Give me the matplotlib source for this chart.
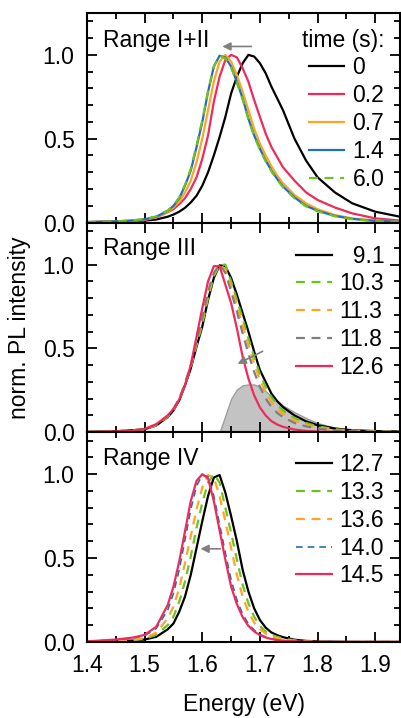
import numpy as np
import matplotlib.pyplot as plt

plt.rcParams['font.family'] = ['Liberation Sans', 'DejaVu Sans']

# common energy grid (eV)
energy = [1.40, 1.45, 1.48, 1.50, 1.52, 1.54, 1.55, 1.56, 1.57, 1.58, 1.59,
          1.60, 1.61, 1.62, 1.63, 1.64, 1.65, 1.66, 1.67, 1.68, 1.69, 1.70,
          1.71, 1.72, 1.73, 1.74, 1.76, 1.78, 1.80, 1.83, 1.86, 1.90, 1.95]

# Range I+II
labels_a = ['0', '0.2', '0.7', '1.4', '6.0']
pl_a_00 = [0.003, 0.006, 0.009, 0.012, 0.018, 0.035, 0.048, 0.065, 0.088, 0.12, 0.16,
           0.22, 0.30, 0.40, 0.51, 0.63, 0.77, 0.87, 0.95, 1.0, 0.99, 0.95,
           0.89, 0.81, 0.74, 0.67, 0.50, 0.37, 0.27, 0.18, 0.115, 0.065, 0.03]
pl_a_02 = [0.002, 0.005, 0.01, 0.015, 0.03, 0.062, 0.08, 0.11, 0.145, 0.20, 0.27,
           0.38, 0.52, 0.72, 0.87, 0.97, 1.0, 0.985, 0.92, 0.84, 0.73, 0.63,
           0.53, 0.45, 0.39, 0.33, 0.25, 0.18, 0.135, 0.09, 0.055, 0.025, 0.01]
pl_a_07 = [0.003, 0.006, 0.011, 0.018, 0.032, 0.064, 0.09, 0.125, 0.18, 0.25, 0.36,
           0.50, 0.67, 0.84, 0.96, 1.0, 0.96, 0.88, 0.78, 0.67, 0.56, 0.47,
           0.40, 0.335, 0.28, 0.235, 0.165, 0.115, 0.08, 0.045, 0.025, 0.012, 0.005]
pl_a_14 = [0.003, 0.007, 0.013, 0.02, 0.035, 0.07, 0.10, 0.145, 0.22, 0.31, 0.45,
           0.60, 0.78, 0.93, 0.995, 0.985, 0.93, 0.84, 0.74, 0.62, 0.52, 0.44,
           0.37, 0.31, 0.26, 0.215, 0.15, 0.10, 0.07, 0.04, 0.022, 0.01, 0.004]
pl_a_60 = [0.003, 0.007, 0.014, 0.021, 0.037, 0.072, 0.103, 0.15, 0.225, 0.32, 0.46,
           0.61, 0.785, 0.93, 0.995, 0.98, 0.925, 0.835, 0.735, 0.615, 0.515, 0.435,
           0.365, 0.305, 0.255, 0.21, 0.145, 0.097, 0.067, 0.038, 0.02, 0.009, 0.003]

# Range III
labels_b = ['  9.1', '10.3', '11.3', '11.8', '12.6']
pl_b_091 = [0.002, 0.006, 0.012, 0.018, 0.04, 0.09, 0.13, 0.19, 0.28, 0.38, 0.51,
            0.63, 0.79, 0.92, 0.995, 0.99, 0.92, 0.82, 0.71, 0.60, 0.48, 0.37,
            0.30, 0.23, 0.185, 0.15, 0.10, 0.065, 0.042, 0.022, 0.012, 0.007, 0.004]
pl_b_103 = [0.002, 0.006, 0.012, 0.019, 0.041, 0.092, 0.133, 0.195, 0.285, 0.39, 0.52,
            0.645, 0.80, 0.93, 0.995, 1.0, 0.90, 0.79, 0.68, 0.56, 0.45, 0.345,
            0.27, 0.21, 0.165, 0.13, 0.085, 0.055, 0.035, 0.018, 0.01, 0.006, 0.003]
pl_b_113 = [0.002, 0.006, 0.012, 0.019, 0.043, 0.095, 0.136, 0.20, 0.29, 0.395, 0.53,
            0.66, 0.82, 0.94, 1.0, 0.97, 0.87, 0.76, 0.64, 0.52, 0.41, 0.31,
            0.24, 0.18, 0.14, 0.11, 0.07, 0.045, 0.028, 0.014, 0.008, 0.004, 0.002]
pl_b_118 = [0.002, 0.005, 0.011, 0.019, 0.044, 0.097, 0.138, 0.20, 0.29, 0.40, 0.54,
            0.68, 0.84, 0.95, 1.0, 0.95, 0.84, 0.72, 0.59, 0.47, 0.36, 0.27,
            0.20, 0.15, 0.115, 0.09, 0.055, 0.035, 0.022, 0.011, 0.006, 0.003, 0.001]
pl_b_126 = [0.002, 0.005, 0.008, 0.02, 0.048, 0.10, 0.14, 0.195, 0.28, 0.40, 0.57,
            0.74, 0.90, 0.99, 0.99, 0.88, 0.77, 0.62, 0.45, 0.32, 0.22, 0.148,
            0.10, 0.066, 0.046, 0.032, 0.016, 0.008, 0.004, 0.002, 0.001, 0.0, 0.0]
# shaded component
shade_energy = [1.630, 1.640, 1.650, 1.660, 1.670, 1.680, 1.690, 1.700, 1.710,
                1.720, 1.740, 1.760, 1.780, 1.800, 1.830, 1.870, 1.945]
shade_value = [0.0, 0.10, 0.20, 0.255, 0.28, 0.285, 0.285, 0.27, 0.245,
               0.215, 0.16, 0.12, 0.085, 0.055, 0.028, 0.01, 0.0]

# Range IV
labels_c = ['12.7', '13.3', '13.6', '14.0', '14.5']
pl_c_127 = [0.0, 0.004, 0.008, 0.014, 0.03, 0.075, 0.11, 0.18, 0.27, 0.40, 0.56,
            0.72, 0.87, 0.98, 0.995, 0.89, 0.75, 0.60, 0.43, 0.30, 0.20, 0.13,
            0.085, 0.056, 0.04, 0.028, 0.013, 0.006, 0.003, 0.001, 0.0, 0.0, 0.0]
pl_c_133 = [0.0, 0.005, 0.01, 0.018, 0.042, 0.10, 0.15, 0.24, 0.36, 0.51, 0.68,
            0.83, 0.95, 1.0, 0.95, 0.80, 0.65, 0.49, 0.34, 0.23, 0.15, 0.095,
            0.062, 0.043, 0.03, 0.02, 0.009, 0.004, 0.002, 0.0, 0.0, 0.0, 0.0]
pl_c_136 = [0.0, 0.006, 0.012, 0.022, 0.055, 0.14, 0.21, 0.32, 0.47, 0.63, 0.79,
            0.92, 0.995, 0.98, 0.87, 0.72, 0.56, 0.40, 0.27, 0.18, 0.115, 0.075,
            0.05, 0.034, 0.023, 0.015, 0.007, 0.003, 0.001, 0.0, 0.0, 0.0, 0.0]
pl_c_140 = [0.002, 0.012, 0.023, 0.037, 0.08, 0.19, 0.29, 0.43, 0.61, 0.79, 0.93,
            0.995, 0.985, 0.87, 0.70, 0.53, 0.37, 0.25, 0.165, 0.107, 0.07, 0.045,
            0.03, 0.019, 0.012, 0.008, 0.003, 0.001, 0.0, 0.0, 0.0, 0.0, 0.0]
pl_c_145 = [0.003, 0.014, 0.026, 0.042, 0.09, 0.22, 0.33, 0.48, 0.66, 0.84, 0.96,
            1.0, 0.975, 0.84, 0.665, 0.49, 0.33, 0.225, 0.148, 0.095, 0.062, 0.04,
            0.026, 0.017, 0.011, 0.007, 0.003, 0.001, 0.0, 0.0, 0.0, 0.0, 0.0]

BLACK = '#000000'
PINK = '#ee2b5b'
ORANGE = '#ffa526'
BLUE = '#2170b8'
GREEN = '#6cc21e'
GREY = '#7f7f7f'
DASH = (0, (4, 3))
FS = 16.5

fig = plt.figure(figsize=(4.01, 7.18), dpi=100)
axes = fig.subplots(3, 1, sharex=True)
fig.subplots_adjust(left=0.217, right=0.9975, top=0.982, bottom=0.106, hspace=0)
lw = 1.6
arrow_kw = dict(arrowstyle='-|>', color=GREY, lw=1.2, mutation_scale=12)
leg_kw = dict(loc='upper right', frameon=False, fontsize=FS, handlelength=1.55,
              handletextpad=0.35, labelspacing=0.21, borderaxespad=0.0,
              borderpad=0.0)

ax = axes[0]
ax.plot(energy, pl_a_00, color=BLACK, lw=lw, label=labels_a[0])
ax.plot(energy, pl_a_02, color=PINK, lw=lw, label=labels_a[1])
ax.plot(energy, pl_a_07, color=ORANGE, lw=lw, label=labels_a[2])
ax.plot(energy, pl_a_14, color=BLUE, lw=lw, label=labels_a[3])
ax.plot(energy, pl_a_60, color=GREEN, lw=lw, ls=DASH, label=labels_a[4])
ax.annotate('', xy=(1.630, 1.05), xytext=(1.690, 1.05), arrowprops=arrow_kw)
ax.text(0.05, 0.87, 'Range I+II', transform=ax.transAxes, va='center', fontsize=FS)
ax.legend(title='time (s):', alignment='right', title_fontsize=FS,
          bbox_to_anchor=(0.95, 0.925), **leg_kw)

ax = axes[1]
ax.fill_between(shade_energy, shade_value, color='#c3c3c3', edgecolor='#9a9a9a', lw=0.9)
ax.plot(energy, pl_b_091, color=BLACK, lw=lw, label=labels_b[0])
ax.plot(energy, pl_b_103, color=GREEN, lw=lw, ls=DASH, label=labels_b[1])
ax.plot(energy, pl_b_113, color=ORANGE, lw=lw, ls=DASH, label=labels_b[2])
ax.plot(energy, pl_b_118, color=GREY, lw=lw, ls=DASH, label=labels_b[3])
ax.plot(energy, pl_b_126, color=PINK, lw=lw, label=labels_b[4])
ax.annotate('', xy=(1.657, 0.40), xytext=(1.709, 0.49), arrowprops=arrow_kw)
ax.text(0.05, 0.875, 'Range III', transform=ax.transAxes, va='center', fontsize=FS)
ax.legend(bbox_to_anchor=(0.95, 0.895), **leg_kw)
ax.set_ylabel('norm. PL intensity', fontsize=FS)
ax.yaxis.set_label_coords(-0.18, 0.5)

ax = axes[2]
ax.plot(energy, pl_c_127, color=BLACK, lw=lw, label=labels_c[0])
ax.plot(energy, pl_c_133, color=GREEN, lw=lw, ls=DASH, label=labels_c[1])
ax.plot(energy, pl_c_136, color=ORANGE, lw=lw, ls=DASH, label=labels_c[2])
ax.plot(energy, pl_c_140, color=BLUE, lw=1.2, ls=DASH, label=labels_c[3])
ax.plot(energy, pl_c_145, color=PINK, lw=lw, label=labels_c[4])
ax.annotate('', xy=(1.592, 0.555), xytext=(1.636, 0.555), arrowprops=arrow_kw)
ax.text(0.05, 0.875, 'Range IV', transform=ax.transAxes, va='center', fontsize=FS)
ax.legend(bbox_to_anchor=(0.95, 0.90), **leg_kw)
ax.set_xlabel('Energy (eV)', fontsize=FS)
ax.xaxis.set_label_coords(0.5, -0.245)

for ax in axes:
    ax.set_xlim(1.4, 1.943)
    ax.set_ylim(0, 1.25)
    ax.set_xticks([1.4, 1.5, 1.6, 1.7, 1.8, 1.9])
    ax.set_xticks(np.arange(1.45, 1.95, 0.1), minor=True)
    ax.set_yticks([0.0, 0.5, 1.0])
    ax.set_yticks(np.arange(0.1, 1.25, 0.1), minor=True)
    ax.yaxis.set_major_formatter(plt.FormatStrFormatter('%.1f'))
    ax.tick_params(which='both', direction='in', top=True, right=True, width=1.3,
                   labelsize=FS)
    ax.tick_params(which='major', length=7)
    ax.tick_params(which='minor', length=4)
    ax.tick_params(axis='y', pad=9)
    ax.tick_params(axis='x', pad=8.5)
    for s in ax.spines.values():
        s.set_linewidth(1.5)
axes[2].xaxis.set_major_formatter(plt.FormatStrFormatter('%.1f'))

fig.savefig('out.png', dpi=100)
